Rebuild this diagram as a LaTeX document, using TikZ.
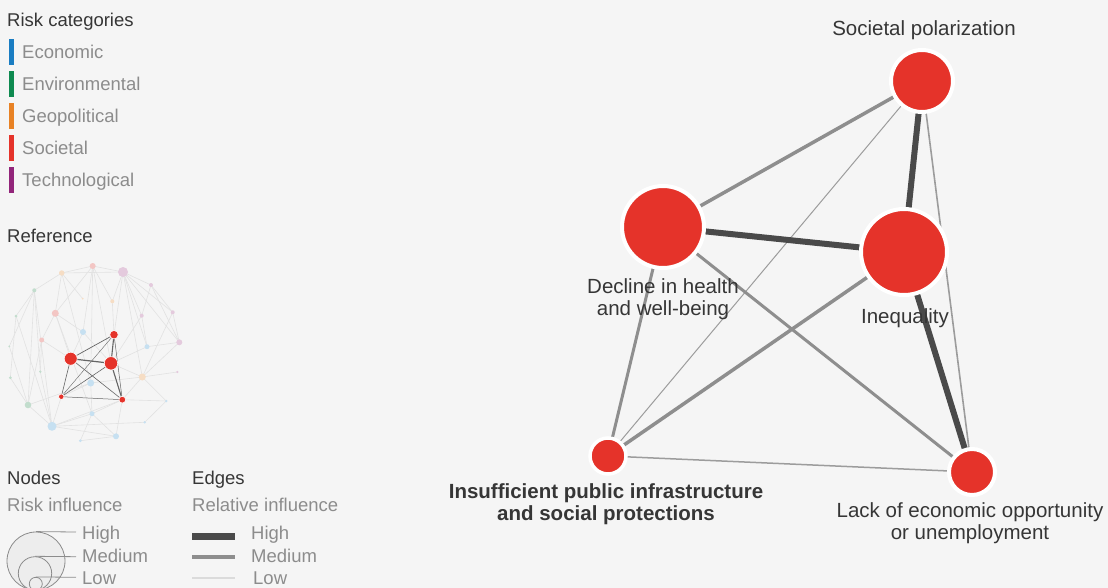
\documentclass[tikz,border=0pt]{standalone}
\usepackage{fontspec}
\setmainfont{Liberation Sans}
\definecolor{bgc}{HTML}{F5F5F5}
\definecolor{riskred}{HTML}{E5332A}
\definecolor{txtdark}{HTML}{363636}
\definecolor{txtlight}{HTML}{8C8C8C}
\definecolor{edgehi}{HTML}{4A4A4A}
\definecolor{edgemed}{HTML}{8E8E8E}
\definecolor{edgelo}{HTML}{9C9C9C}
\definecolor{edgefaint}{HTML}{E2E2E2}
\definecolor{ceco}{HTML}{1A7DC2}
\definecolor{cenv}{HTML}{0E8A50}
\definecolor{cgeo}{HTML}{E88225}
\definecolor{csoc}{HTML}{E5332A}
\definecolor{ctec}{HTML}{92257A}
\definecolor{fpink}{HTML}{F3C6C4}
\definecolor{forange}{HTML}{F6DDC4}
\definecolor{fpurple}{HTML}{E4CADD}
\definecolor{fgreen}{HTML}{C2DDCD}
\definecolor{fblue}{HTML}{C6E0F1}
\pgfdeclarelayer{back}
\pgfdeclarelayer{bg}
\pgfsetlayers{back,bg,main}
\tikzset{
  lbl/.style={font=\fontsize{20.5}{21.5}\selectfont, text=txtdark, align=center, inner sep=0pt, anchor=base},
  leg/.style={font=\fontsize{18.5}{20}\selectfont, inner sep=0pt, anchor=base west},
  legtitle/.style={leg, text=txtdark},
  legitem/.style={leg, text=txtlight},
  risk/.style={circle, fill=riskred, draw=white, line width=4pt, inner sep=0pt},
  hiedge/.style={draw=edgehi, line width=6pt},
  mededge/.style={draw=edgemed, line width=3.5pt},
  loedge/.style={draw=edgelo, line width=1.3pt},
  thinedge/.style={draw=edgelo, line width=1pt},
  catbar/.style={minimum width=5pt, minimum height=26pt, inner sep=0pt, anchor=north west},
  mini/.style={circle, inner sep=0pt},
  minired/.style={circle, fill=riskred, draw=white, line width=0.6pt, inner sep=0pt},
  faint/.style={draw=edgefaint, line width=0.6pt},
  minie/.style={draw=edgehi!85, line width=#1},
  sizec/.style={circle, draw=txtlight, line width=0.8pt, inner sep=0pt},
  sizeline/.style={draw=txtlight, line width=0.8pt},
}
\begin{document}
\begin{tikzpicture}[x=1pt,y=-1pt]
\useasboundingbox (0,0) rectangle (1108,588);
\begin{pgfonlayer}{back}
  \fill[bgc] (0,0) rectangle (1108,588);
\end{pgfonlayer}
\clip (0,0) rectangle (1108,588);

% ---------- main network ----------
\node[risk, minimum size=62pt] (sp) at (922,81) {};
\node[risk, minimum size=82pt] (dh) at (663,227) {};
\node[risk, minimum size=86pt] (in) at (904,252) {};
\node[risk, minimum size=36pt, line width=3.5pt] (ip) at (608,456) {};
\node[risk, minimum size=46pt] (le) at (972,472) {};

\begin{pgfonlayer}{bg}
  \draw[mededge] (sp.center) -- (dh.center);
  \draw[hiedge] (sp.center) -- (in.center);
  \draw[thinedge] (sp.center) -- (ip.center);
  \draw[loedge, line width=1.6pt] (sp.center) -- (le.center);
  \draw[hiedge] (dh.center) -- (in.center);
  \draw[mededge, line width=3pt] (dh.center) -- (ip.center);
  \draw[mededge, line width=3pt] (dh.center) -- (le.center);
  \draw[mededge] (in.center) -- (ip.center);
  \draw[hiedge] (in.center) -- (le.center);
  \draw[loedge, line width=1.5pt] (ip.center) -- (le.center);
\end{pgfonlayer}

\node[lbl] (splbl) at (924,36) {Societal polarization};
\node[lbl] (dhlbl) at (663,315) {Decline in health\\and well-being};
\node[lbl] (inlbl) at (905,323) {Inequality};
\node[lbl, font=\fontsize{20.5}{21.5}\selectfont\bfseries] (iplbl) at (606,520) {Insufficient public infrastructure\\and social protections};
\node[lbl] (lelbl) at (970,539) {Lack of economic opportunity\\or unemployment};

% ---------- legend: categories ----------
\node[legtitle] (cattitle) at (7,27) {Risk categories};
\node[catbar, fill=ceco] (b1) at (9,39) {};
\node[catbar, fill=cenv] (b2) at (9,71) {};
\node[catbar, fill=cgeo] (b3) at (9,103) {};
\node[catbar, fill=csoc] (b4) at (9,135) {};
\node[catbar, fill=ctec] (b5) at (9,167) {};
\node[legitem] (c1) at (22,58.5) {Economic};
\node[legitem] (c2) at (22,90.5) {Environmental};
\node[legitem] (c3) at (22,122.5) {Geopolitical};
\node[legitem] (c4) at (22,154.5) {Societal};
\node[legitem] (c5) at (22,186.5) {Technological};

% ---------- legend: reference mini network ----------
\node[legtitle] (reftitle) at (7,242.5) {Reference};
\node[mini, fill=fpink,   minimum size=6pt]   (m1)  at (92.7,266) {};
\node[mini, fill=forange, minimum size=5.4pt] (m2)  at (61.7,273) {};
\node[mini, fill=fpurple, minimum size=10pt]  (m3)  at (123,272) {};
\node[mini, fill=fpurple, minimum size=4pt]   (m4)  at (151,285) {};
\node[mini, fill=fgreen,  minimum size=4pt]   (m5)  at (34.3,290.3) {};
\node[mini, fill=forange, minimum size=2pt]   (m6)  at (82.7,298.7) {};
\node[mini, fill=forange, minimum size=4pt]   (m7)  at (112.3,301.3) {};
\node[mini, fill=fpurple, minimum size=4pt]   (m8)  at (172.7,312.3) {};
\node[mini, fill=fpurple, minimum size=4pt]   (m9)  at (141.7,315.7) {};
\node[mini, fill=fgreen,  minimum size=3pt]   (m10) at (16,316) {};
\node[mini, fill=fpink,   minimum size=7pt]   (m11) at (55.3,313.3) {};
\node[mini, fill=fblue,   minimum size=6pt]   (m12) at (83,332) {};
\node[mini, fill=fpink,   minimum size=5pt]   (m13) at (41.7,340) {};
\node[mini, fill=fpurple, minimum size=6pt]   (m14) at (179.3,342.3) {};
\node[mini, fill=fblue,   minimum size=5pt]   (m15) at (147,346.7) {};
\node[mini, fill=fgreen,  minimum size=2pt]   (m16) at (9.3,346.3) {};
\node[mini, fill=fgreen,  minimum size=2.6pt] (m17) at (40.3,371.7) {};
\node[mini, fill=fpurple, minimum size=2.4pt] (m18) at (177.3,372) {};
\node[mini, fill=forange, minimum size=7pt]   (m19) at (142.3,377) {};
\node[mini, fill=fgreen,  minimum size=3pt]   (m20) at (10.3,377.7) {};
\node[mini, fill=fblue,   minimum size=7pt]   (m21) at (90.7,383) {};
\node[mini, fill=fblue,   minimum size=2.6pt] (m22) at (166.3,401) {};
\node[mini, fill=fgreen,  minimum size=6.6pt] (m23) at (28,405) {};
\node[mini, fill=fblue,   minimum size=5pt]   (m24) at (92,413.7) {};
\node[mini, fill=fblue,   minimum size=2.6pt] (m25) at (144.7,422.3) {};
\node[mini, fill=fblue,   minimum size=9pt]   (m26) at (52,426.3) {};
\node[mini, fill=fblue,   minimum size=6pt]   (m27) at (116,436.3) {};
\node[mini, fill=fblue,   minimum size=3pt]   (m28) at (80.3,440.7) {};
\node[minired, minimum size=8.5pt]  (r1) at (114,334.7) {};
\node[minired, minimum size=13pt]   (r2) at (70.7,358.7) {};
\node[minired, minimum size=13.4pt] (r3) at (111,363.3) {};
\node[minired, minimum size=5.5pt]  (r4) at (61.3,396.7) {};
\node[minired, minimum size=6.8pt]  (r5) at (122.3,399.7) {};

\begin{pgfonlayer}{bg}
  \foreach \a/\b in {m2/m3, m1/m3, m2/m1, m3/m4, m4/m14, m3/m8, m3/m14, m3/m9,
      m3/r1, m4/m8, m8/m14, m3/m15, m5/m23, m5/m10, m5/m16, m5/m26, m5/m17,
      m10/m20, m16/m23, m2/m11, m2/m21, m1/r3, m1/m12, m11/r2, m11/m24,
      m13/r2, m13/m23, m12/r3, m7/r1, m9/m15, m14/m19, m19/r5, m19/r3,
      m15/r3, m21/r4, m21/m24, m23/m26, m26/m24, m26/m27, m26/m25, m27/m24,
      m27/m28, m24/m28, m22/m25, m22/r5, m18/m19, m19/m22, m11/m13, m12/r2,
      m7/m3, m6/m2, m13/m17, m17/m26, m10/m26, m21/m19, m24/r5, m26/r4,
      m20/m23, m1/m11, m1/m7, m2/m5, m14/m15, m9/r3, m4/m9, m8/m19, m12/m11,
      m26/r5, m27/r5, m23/m21, m3/m19, m1/m21}
    \draw[faint] (\a.center) -- (\b.center);
  \draw[minie=0.7pt] (r1.center) -- (r2.center);
  \draw[minie=1.1pt] (r1.center) -- (r3.center);
  \draw[minie=0.4pt] (r1.center) -- (r4.center);
  \draw[minie=0.5pt] (r1.center) -- (r5.center);
  \draw[minie=1.2pt] (r2.center) -- (r3.center);
  \draw[minie=0.6pt] (r2.center) -- (r4.center);
  \draw[minie=0.6pt] (r2.center) -- (r5.center);
  \draw[minie=0.6pt] (r3.center) -- (r4.center);
  \draw[minie=1.1pt] (r3.center) -- (r5.center);
  \draw[minie=0.5pt] (r4.center) -- (r5.center);
\end{pgfonlayer}

% ---------- legend: nodes ----------
\node[legtitle] (nodestitle) at (7,484) {Nodes};
\node[legitem] (nodessub) at (7,511) {Risk influence};
\node[sizec, fill=black!7, minimum size=58pt] (bigc) at (36,561) {};
\node[sizec, minimum size=33.4pt] (medc) at (35,573.4) {};
\node[sizec, minimum size=13pt] (lowc) at (35.8,583.8) {};
\coordinate (hiend) at (76,532);
\coordinate (medend) at (76,556.7);
\coordinate (lowend) at (76,577.3);
\draw[sizeline] (bigc.north) -- (hiend);
\draw[sizeline] (medc.north) -- (medend);
\draw[sizeline] (lowc.north) -- (lowend);
\node[legitem] (nhi) at (82,539) {High};
\node[legitem] (nmed) at (82,562.5) {Medium};
\node[legitem] (nlow) at (82,584) {Low};

% ---------- legend: edges ----------
\node[legtitle] (edgestitle) at (192,484) {Edges};
\node[legitem] (edgessub) at (192,511) {Relative influence};
\coordinate (e1a) at (192,536); \coordinate (e1b) at (235,536);
\coordinate (e2a) at (192,557); \coordinate (e2b) at (235,557);
\coordinate (e3a) at (192,578); \coordinate (e3b) at (235,578);
\draw[hiedge, line width=7pt] (e1a) -- (e1b);
\draw[mededge, line width=4pt] (e2a) -- (e2b);
\draw[draw=black!14, line width=2pt] (e3a) -- (e3b);
\node[legitem] (ehi) at (251,539) {High};
\node[legitem] (emed) at (251,562.5) {Medium};
\node[legitem] (elow) at (253,584) {Low};
\end{tikzpicture}
\end{document}
